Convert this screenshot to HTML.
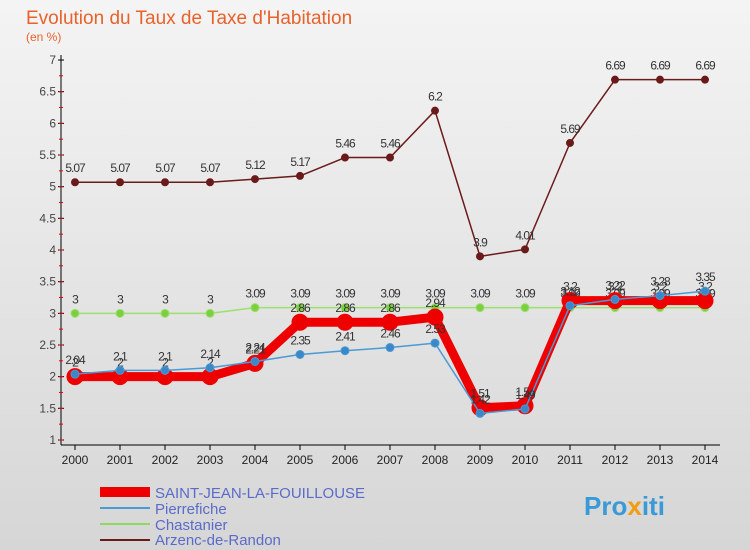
<!DOCTYPE html>
<html><head><meta charset="utf-8"><style>
body{margin:0;width:750px;height:550px;overflow:hidden;font-family:"Liberation Sans",sans-serif;}
#bg{position:absolute;left:0;top:0;width:750px;height:550px;background:linear-gradient(#f4f4f4,#d6d6d6);}
</style></head><body>
<div id="bg"></div>
<svg id="c" width="750" height="550" style="position:absolute;left:0;top:0">
<text x="26" y="24" font-size="19" fill="#e8622a">Evolution du Taux de Taxe d'Habitation</text>
<text x="26" y="41" font-size="12" fill="#e8622a">(en %)</text>
<g id="axes"></g><g id="series"></g>
<g font-size="15" fill="#5b6bc9">
<rect x="100" y="487" width="50" height="10" fill="#ee0000"/>
<text x="155" y="498">SAINT-JEAN-LA-FOUILLOUSE</text>
<line x1="100" y1="508" x2="150" y2="508" stroke="#4a9ad4" stroke-width="2"/>
<text x="155" y="514">Pierrefiche</text>
<line x1="100" y1="524" x2="150" y2="524" stroke="#8fd860" stroke-width="2"/>
<text x="155" y="530">Chastanier</text>
<line x1="100" y1="540" x2="150" y2="540" stroke="#6b1a1a" stroke-width="2"/>
<text x="155" y="545">Arzenc-de-Randon</text>
</g>
<text x="584" y="515" font-size="26" font-weight="bold" fill="#3a9ad8">Pro<tspan fill="#f39c12">x</tspan>iti</text>
</svg>
<script>
const years=[2000,2001,2002,2003,2004,2005,2006,2007,2008,2009,2010,2011,2012,2013,2014];
const yTicks=[1,1.5,2,2.5,3,3.5,4,4.5,5,5.5,6,6.5,7];
const arzenc=[5.07,5.07,5.07,5.07,5.12,5.17,5.46,5.46,6.2,3.9,4.01,5.69,6.69,6.69,6.69];
const chastanier=[3,3,3,3,3.09,3.09,3.09,3.09,3.09,3.09,3.09,3.09,3.09,3.09,3.09];
const pierrefiche=[2.04,2.1,2.1,2.14,2.24,2.35,2.41,2.46,2.53,1.42,1.49,3.12,3.22,3.28,3.35];
const saintJean=[2,2,2,2,2.21,2.86,2.86,2.86,2.94,1.51,1.54,3.2,3.2,3.2,3.2];
const NS='http://www.w3.org/2000/svg';
const X=i=>75+i*45, Y=v=>440-(v-1)*63.33;
function mk(t,a,p){const e=document.createElementNS(NS,t);for(const k in a)e.setAttribute(k,a[k]);p.appendChild(e);return e;}
const ax=document.getElementById('axes');
const yl=mk('line',{x1:61,y1:55,x2:61,y2:445,stroke:'#000'},ax);


const xl=mk('line',{x1:61,y1:445,x2:720,y2:445,stroke:'#000'},ax);


yTicks.forEach((v,k)=>{
 mk('line',{x1:58,y1:Y(v),x2:64,y2:Y(v),stroke:'#000'},ax);
 if(k>0){
  mk('line',{x1:59,y1:Y(v)+15.8,x2:63,y2:Y(v)+15.8,stroke:'#e00'},ax);
  mk('line',{x1:59,y1:Y(v)+31.7,x2:63,y2:Y(v)+31.7,stroke:'#e00'},ax);
 }
 const t=mk('text',{x:56,y:Y(v)+4,'text-anchor':'end','font-size':12,fill:'#444'},ax);t.textContent=v;
 
 
});
years.forEach((y,i)=>{
 mk('line',{x1:X(i),y1:445,x2:X(i),y2:450,stroke:'#000'},ax);
 const t=mk('text',{x:X(i),y:464,'text-anchor':'middle','font-size':12,fill:'#222'},ax);t.textContent=y;
 
 
});
const sg=document.getElementById('series');
function series(d,name,color,w,r,dot){
 const g=mk('g',{},sg);
 
 
 mk('polyline',{points:d.map((v,i)=>X(i)+','+Y(v)).join(' '),fill:'none',stroke:color,'stroke-width':w,'stroke-linejoin':'round'},g);
 d.forEach((v,i)=>{
  const c=mk('circle',{cx:X(i),cy:Y(v),r:r,fill:dot,stroke:color,'stroke-width':1},g);
  
  
  const t=mk('text',{x:X(i),y:Y(v)-10,'text-anchor':'middle','font-size':12,fill:'#333','letter-spacing':'-1'},g);t.textContent=v;
  
  
 });
}
series(arzenc,'arzenc-series','#6b1a1a',1.5,3.5,'#6b1a1a');
series(chastanier,'chastanier-series','#9ce070',1.5,4,'#7cd040');
series(saintJean,'saint-jean-series','#ee0000',9,8,'#ee0000');
series(pierrefiche,'pierrefiche-series','#4a9ad4',1.5,4,'#3a88c8');
</script>
</body></html>
